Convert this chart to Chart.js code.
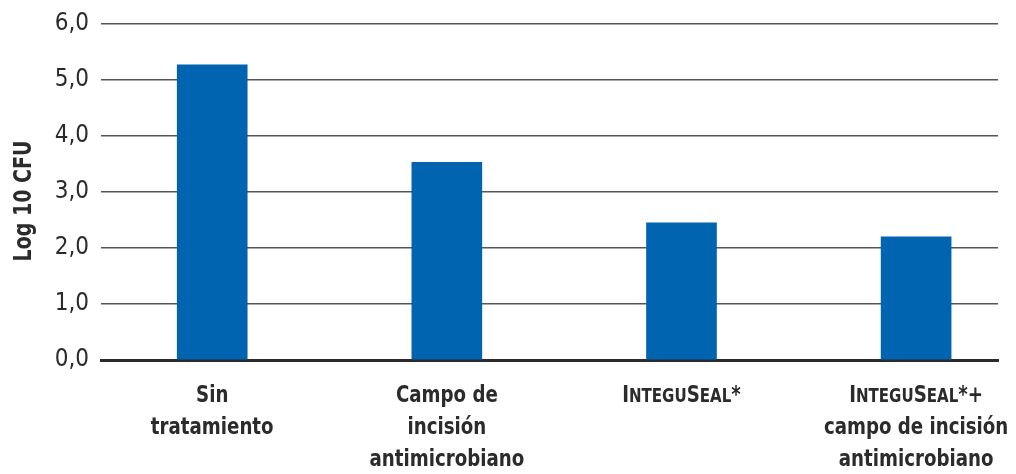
<!DOCTYPE html>
<html>
<head>
<meta charset="utf-8">
<script src="https://cdn.jsdelivr.net/npm/chart.js@4.4.1/dist/chart.umd.min.js"></script>
<style>
    html, body { margin: 0; padding: 0; background: #fff; }
    #wrap { width: 1016px; height: 474px; position: relative; }
</style>
</head>
<body>
<div id="wrap"><canvas id="cfuChart"></canvas></div>
<script>
// Categories (one entry per bar, lines of the label)
const categories = [
    ['Sin', 'tratamiento'],
    ['Campo de', 'incisión', 'antimicrobiano'],
    ['InteguSeal*'],
    ['InteguSeal*+', 'campo de incisión', 'antimicrobiano']
];
// Log 10 CFU per category
const cfuValues = [5.27, 3.53, 2.45, 2.20];
// Y axis
const yTicks = [0, 1, 2, 3, 4, 5, 6];
const yTitle = 'Log 10 CFU';

const FONT = "'Liberation Sans Narrow', 'Arial Narrow', 'DejaVu Sans Condensed', sans-serif";
const TEXT = '#2b2b2b';
const BLUE = '#0064b1';
const SQUEEZE = 0.88; // the original type is narrower than DejaVu Condensed

// Draw one label line; "InteguSeal" lines get small caps
function drawLine(ctx, text, cx, y, size) {
    const smallCaps = text.indexOf('InteguSeal') !== -1;
    const small = Math.round(size * 0.84);
    const parts = [];
    for (const ch of text) {
        const lower = smallCaps && ch !== ch.toUpperCase();
        parts.push({ t: lower ? ch.toUpperCase() : ch, s: lower ? small : size });
    }
    let total = 0;
    parts.forEach(p => {
        ctx.font = `bold ${p.s}px ${FONT}`;
        p.w = ctx.measureText(p.t).width;
        total += p.w;
    });
    ctx.save();
    ctx.translate(cx, y);
    ctx.scale(SQUEEZE, 1);
    ctx.textAlign = 'left';
    let x = -total / 2;
    parts.forEach(p => {
        ctx.font = `bold ${p.s}px ${FONT}`;
        ctx.fillText(p.t, x, 0);
        x += p.w;
    });
    ctx.restore();
}

const labelPlugin = {
    id: 'labels',
    afterDraw(chart) {
        const ctx = chart.ctx;
        const xs = chart.scales.x;
        const area = chart.chartArea;
        ctx.save();
        ctx.fillStyle = TEXT;
        ctx.textBaseline = 'alphabetic';
        categories.forEach((lines, i) => {
            const cx = xs.getPixelForValue(i);
            lines.forEach((line, j) => {
                drawLine(ctx, line, cx, area.bottom + 42 + j * 32, 23);
            });
        });
        // y axis title
        ctx.translate(31, (area.top + area.bottom) / 2 + 9);
        ctx.rotate(-Math.PI / 2);
        ctx.scale(SQUEEZE, 1);
        ctx.font = `bold 24px ${FONT}`;
        ctx.textAlign = 'center';
        ctx.fillText(yTitle, 0, 0);
        ctx.restore();
    }
};

const chart = new Chart(document.getElementById('cfuChart'), {
    type: 'bar',
    data: {
        datasets: [{
            data: cfuValues.map((v, i) => ({ x: i, y: v })),
            backgroundColor: BLUE,
            borderWidth: 0,
            barThickness: 70
        }]
    },
    options: {
        responsive: true,
        maintainAspectRatio: false,
        animation: false,
        layout: { padding: { left: 0, right: 18, top: 24, bottom: 0 } },
        plugins: {
            legend: { display: false },
            tooltip: { enabled: false }
        },
        scales: {
            x: {
                type: 'linear',
                min: -0.474,
                max: 3.349,
                offset: false,
                z: 1,
                ticks: { display: false, includeBounds: false, stepSize: 1 },
                grid: { display: false, offset: false },
                border: { display: true, width: 3, color: TEXT },
                afterFit: s => { s.height = 114; s.paddingLeft = 0; s.paddingRight = 0; }
            },
            y: {
                min: yTicks[0],
                max: yTicks[yTicks.length - 1],
                z: 1,
                afterBuildTicks: s => { s.ticks = yTicks.map(v => ({ value: v })); },
                ticks: {
                    padding: 12,
                    color: TEXT,
                    font: { family: FONT, size: 24 },
                    callback: v => v.toFixed(1).replace('.', ',')
                },
                grid: { color: '#555', lineWidth: 1.5, drawTicks: false },
                border: { display: false },
                afterFit: s => { s.width = 101; s.paddingTop = 0; s.paddingBottom = 0; }
            }
        }
    },
    plugins: [labelPlugin]
});
</script>
</body>
</html>
